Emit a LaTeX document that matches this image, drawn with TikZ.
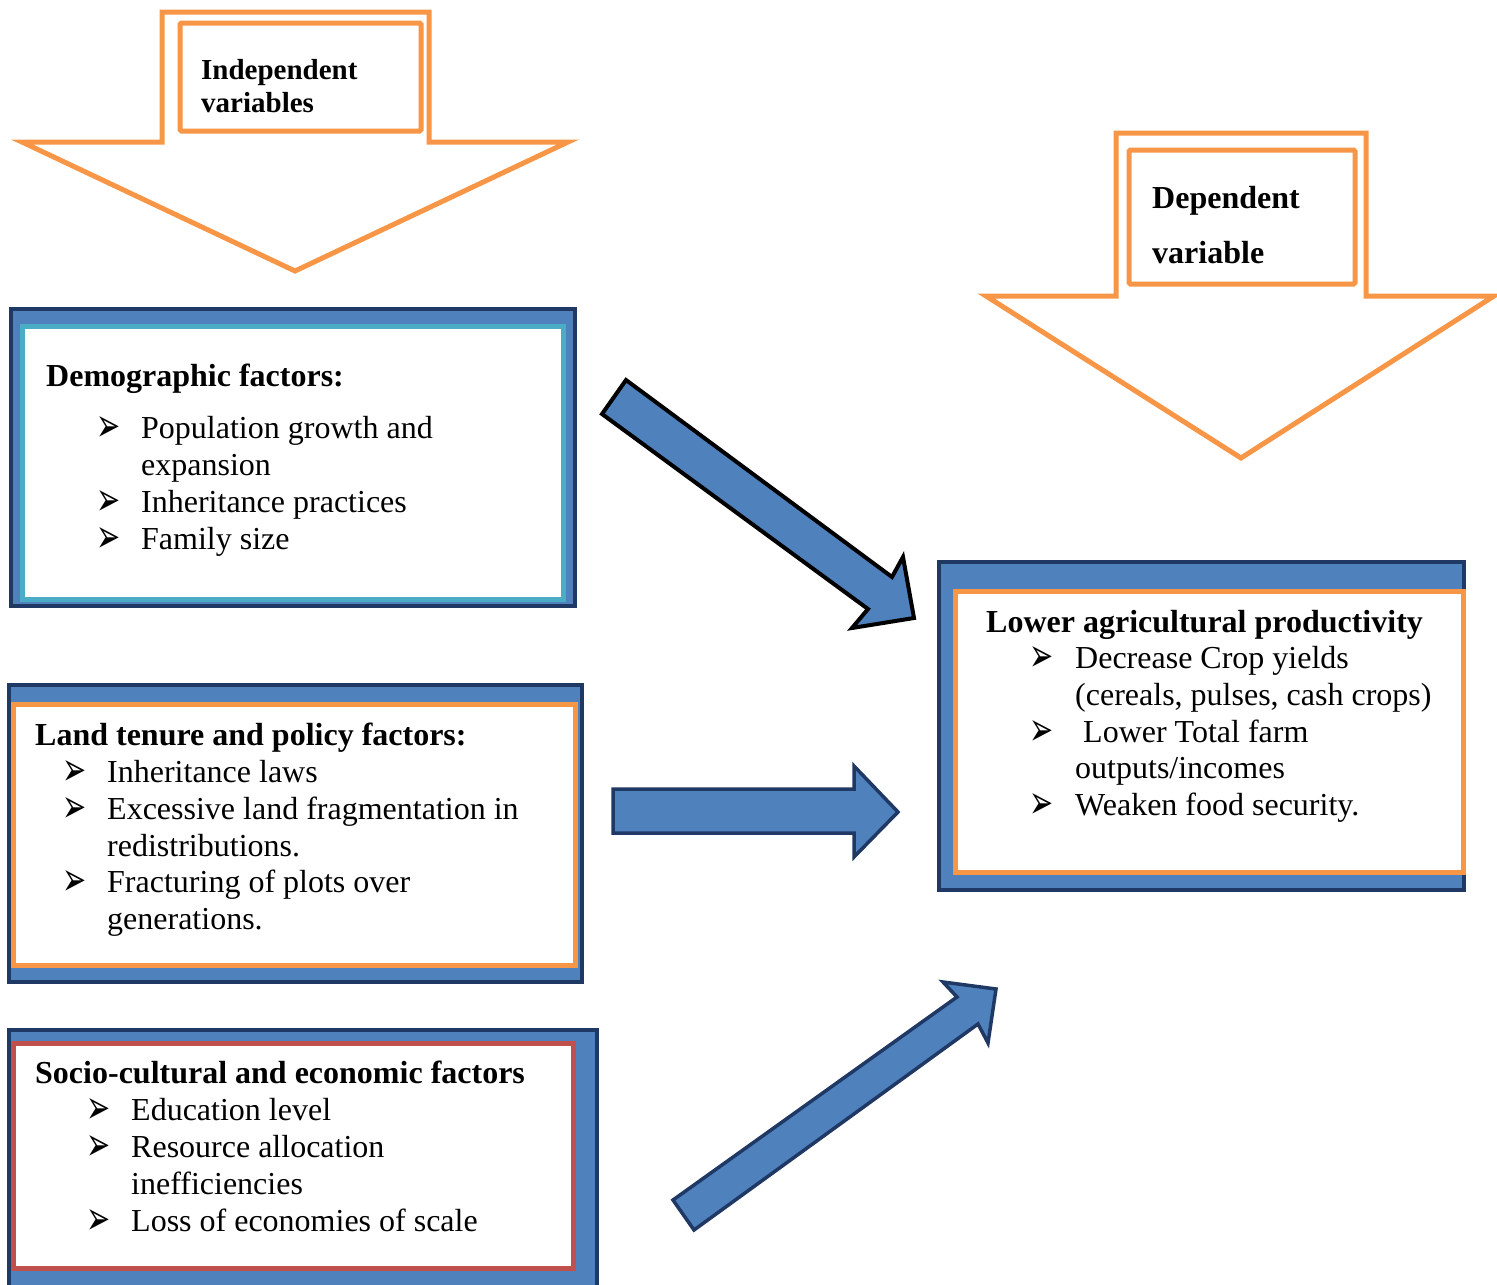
\documentclass[tikz,border=0pt]{standalone}
\usepackage{fontspec}
\usepackage{graphicx}
\setmainfont{Liberation Serif}
\newfontfamily\dejavu{DejaVu Sans}
\definecolor{orangeC}{HTML}{F79646}
\definecolor{blueC}{HTML}{4F81BD}
\definecolor{navyC}{HTML}{1F3864}
\definecolor{lblueC}{HTML}{4BACC6}
\definecolor{redC}{HTML}{C0504D}
\newcommand\myarrowbullet{\smash{\raisebox{-3pt}{\scalebox{1.2}[1.95]{➢}}}}
\tikzset{
  outerbox/.style={draw=navyC, line width=3.5pt, fill=blueC, inner sep=0pt, outer sep=0pt},
  innerbox/.style={draw=#1, line width=5pt, fill=white, inner sep=0pt, outer sep=0pt},
  hdrbox/.style={draw=orangeC, line width=5pt, fill=white, rounded corners=1.5pt, inner sep=0pt, outer sep=0pt},
  bigarrow/.style={draw=orangeC, line width=5pt, fill=white, line join=miter},
  blockarrow/.style={draw=navyC, line width=3.5pt, fill=blueC, line join=miter},
  txt/.style={anchor=base west, inner sep=0pt, font=\fontsize{32}{37}\selectfont},
  ttl/.style={anchor=base west, inner sep=0pt, font=\fontsize{32}{37}\selectfont\bfseries},
  bul/.style={anchor=base west, inner sep=0pt, font=\dejavu\fontsize{24}{26}\selectfont}
}
\newcommand\mybox[6]{\node[#2, minimum width={(#5-#3)*1pt}, minimum height={(#6-#4)*1pt}] (#1) at ({(#3+#5)/2},{(#4+#6)/2}) {};}
\begin{document}
\begin{tikzpicture}[x=1pt,y=-1pt]
\useasboundingbox (0,0) rectangle (1497,1285);

% Independent variables arrow
\draw[bigarrow] (162,12) -- (429,12) -- (429,142) -- (568,142) -- (295,271) -- (22,142) -- (162,142) -- cycle;
\mybox{indbox}{hdrbox}{180}{23}{421}{131}
\node[anchor=base west, inner sep=0pt, font=\fontsize{29}{33}\selectfont\bfseries] (indt1) at (201,79) {Independent};
\node[anchor=base west, inner sep=0pt, font=\fontsize{29}{33}\selectfont\bfseries] (indt2) at (201,112) {variables};

% Dependent variable arrow
\draw[bigarrow] (1116,133) -- (1366,133) -- (1366,296) -- (1494,296) -- (1241,458) -- (986,296) -- (1116,296) -- cycle;
\mybox{depbox}{hdrbox}{1129}{150}{1355}{284}
\node[ttl] (dept1) at (1152,208) {Dependent};
\node[ttl] (dept2) at (1152,263) {variable};

% Demographic factors
\mybox{demoO}{outerbox}{11}{309}{575}{606}
\mybox{demoI}{innerbox=lblueC}{22}{326}{563}{599}
\node[ttl] (demoT) at (46,386) {Demographic factors:};
\node[bul] (demoB1) at (96,438) {\myarrowbullet};
\node[txt] (demo1) at (141,438) {Population growth and};
\node[txt] (demo1b) at (141,475) {expansion};
\node[bul] (demoB2) at (96,512) {\myarrowbullet};
\node[txt] (demo2) at (141,512) {Inheritance practices};
\node[bul] (demoB3) at (96,549) {\myarrowbullet};
\node[txt] (demo3) at (141,549) {Family size};

% Land tenure and policy factors
\mybox{landO}{outerbox}{9}{685}{582}{982}
\mybox{landI}{innerbox=orangeC}{13}{704}{575}{965}
\node[ttl] (landT) at (35,745) {Land tenure and policy factors:};
\node[bul] (landB1) at (62,782) {\myarrowbullet};
\node[txt] (land1) at (107,782) {Inheritance laws};
\node[bul] (landB2) at (62,819) {\myarrowbullet};
\node[txt] (land2) at (107,819) {Excessive land fragmentation in};
\node[txt] (land2b) at (107,856) {redistributions.};
\node[bul] (landB3) at (62,892) {\myarrowbullet};
\node[txt] (land3) at (107,892) {Fracturing of plots over};
\node[txt] (land3b) at (107,929) {generations.};

% Socio-cultural and economic factors
\mybox{socO}{outerbox}{9}{1030}{597}{1300}
\mybox{socI}{innerbox=redC}{13}{1043}{573}{1268}
\node[ttl] (socT) at (35,1083) {Socio-cultural and economic factors};
\node[bul] (socB1) at (86,1120) {\myarrowbullet};
\node[txt] (soc1) at (131,1120) {Education level};
\node[bul] (socB2) at (86,1157) {\myarrowbullet};
\node[txt] (soc2) at (131,1157) {Resource allocation};
\node[txt] (soc2b) at (131,1194) {inefficiencies};
\node[bul] (socB3) at (86,1231) {\myarrowbullet};
\node[txt] (soc3) at (131,1231) {Loss of economies of scale};

% Lower agricultural productivity
\mybox{outO}{outerbox}{939}{562}{1464}{890}
\mybox{outI}{innerbox=orangeC}{955}{591}{1463}{872}
\node[ttl] (outT) at (986,632) {Lower agricultural productivity};
\node[bul] (outB1) at (1029,668) {\myarrowbullet};
\node[txt] (out1) at (1075,668) {Decrease Crop yields};
\node[txt] (out1b) at (1075,705) {(cereals, pulses, cash crops)};
\node[bul] (outB2) at (1029,742) {\myarrowbullet};
\node[txt] (out2) at (1075,742) {\ Lower Total farm};
\node[txt] (out2b) at (1075,778) {outputs/incomes};
\node[bul] (outB3) at (1029,815) {\myarrowbullet};
\node[txt] (out3) at (1075,815) {Weaken food security.};

% Block arrows towards the outcome
\draw[blockarrow, draw=black, line width=4pt] (602,414) -- (626,380) -- (892,577) -- (903,557) -- (914,618) -- (852,628) -- (868,609) -- cycle;
\draw[blockarrow] (613,789) -- (854,789) -- (854,766) -- (898,812) -- (854,857) -- (854,833) -- (613,833) -- cycle;
\draw[blockarrow] (673,1200) -- (957,997) -- (943,982) -- (996,989) -- (988,1043) -- (978,1024) -- (694,1230) -- cycle;
\end{tikzpicture}
\end{document}
